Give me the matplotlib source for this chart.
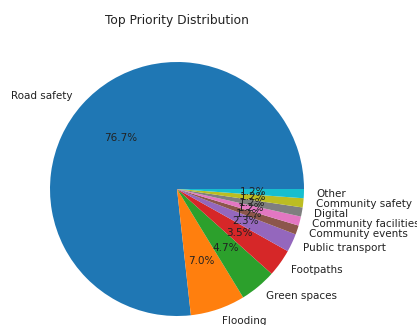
import matplotlib
matplotlib.use("Agg")
import matplotlib.pyplot as plt

categories = ["Road safety", "Flooding", "Green spaces", "Footpaths", "Public transport",
              "Community events", "Community facilities", "Digital", "Community safety", "Other"]
counts = [66, 6, 4, 3, 2, 1, 1, 1, 1, 1]

W, H, DPI = 417, 325, 65
fig = plt.figure(figsize=(W / DPI, H / DPI), dpi=DPI)
cx, cy, r = 177, 189, 127
side = 2.5 * r
ax = fig.add_axes([(cx - side / 2) / W, (H - cy - side / 2) / H, side / W, side / H])
ax.pie(counts, labels=categories, autopct="%1.1f%%",
       textprops={"fontsize": 11.5, "color": "#222222"})
ax.set_title("Top Priority Distribution", fontsize=13.5, color="#222222", pad=7)
fig.savefig("out.png", dpi=DPI)
